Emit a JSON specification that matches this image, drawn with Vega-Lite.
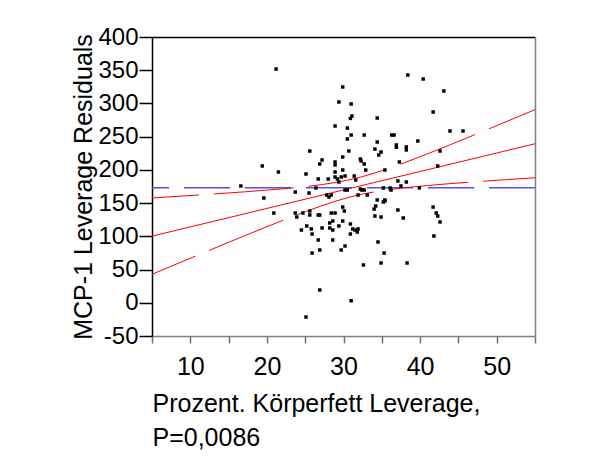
{
  "$schema": "https://vega.github.io/schema/vega-lite/v6.json",
  "width": 383,
  "height": 299,
  "autosize": {"type": "none"},
  "padding": {"left": 152, "top": 37, "right": 71, "bottom": 127},
  "background": "white",
  "config": {"view": {"stroke": null}, "font": "Liberation Sans"},
  "datasets": {
    "pts": [
      {"x":21.2,"y":351.8},{"x":38.4,"y":342.8},{"x":40.4,"y":336.8},{"x":43.1,"y":318.7},{"x":29.9,"y":324.8},
      {"x":29.4,"y":302.2},{"x":31.0,"y":299.2},{"x":41.7,"y":287.1},{"x":31.1,"y":281.1},{"x":30.9,"y":277.5},
      {"x":34.4,"y":278.1},{"x":28.9,"y":266.1},{"x":30.5,"y":263.0},{"x":43.9,"y":258.5},{"x":45.6,"y":258.5},
      {"x":31.0,"y":252.5},{"x":32.7,"y":252.5},{"x":36.3,"y":252.5},{"x":36.6,"y":252.5},{"x":30.5,"y":246.5},
      {"x":39.7,"y":243.5},{"x":34.4,"y":242.0},{"x":36.9,"y":237.5},{"x":36.9,"y":234.0},{"x":38.2,"y":234.5},
      {"x":38.2,"y":230.0},{"x":34.1,"y":231.4},{"x":25.6,"y":228.4},{"x":30.7,"y":228.4},{"x":34.9,"y":226.9},
      {"x":34.6,"y":222.4},{"x":42.6,"y":228.4},{"x":29.9,"y":219.4},{"x":27.2,"y":214.9},{"x":26.9,"y":208.9},
      {"x":32.2,"y":216.4},{"x":32.3,"y":213.4},{"x":32.7,"y":208.9},{"x":28.9,"y":211.9},{"x":28.9,"y":207.4},
      {"x":37.3,"y":211.9},{"x":32.9,"y":199.8},{"x":19.4,"y":205.9},{"x":21.5,"y":196.8},{"x":42.3,"y":205.9},
      {"x":35.4,"y":199.8},{"x":25.1,"y":193.8},{"x":28.9,"y":196.8},{"x":29.9,"y":199.8},{"x":30.2,"y":190.8},
      {"x":26.7,"y":186.3},{"x":28.0,"y":186.3},{"x":28.9,"y":189.3},{"x":29.2,"y":186.3},{"x":29.7,"y":189.3},
      {"x":29.4,"y":181.8},{"x":31.4,"y":190.8},{"x":31.6,"y":184.8},{"x":37.1,"y":183.3},{"x":38.2,"y":181.8},
      {"x":37.5,"y":175.8},{"x":26.4,"y":172.8},{"x":23.7,"y":166.7},{"x":25.5,"y":165.2},{"x":30.2,"y":169.7},
      {"x":30.5,"y":169.7},{"x":32.2,"y":171.2},{"x":32.4,"y":169.7},{"x":32.7,"y":169.7},{"x":35.2,"y":172.8},
      {"x":36.1,"y":172.8},{"x":36.2,"y":169.7},{"x":39.9,"y":172.8},{"x":16.6,"y":175.8},{"x":19.6,"y":157.7},
      {"x":27.8,"y":162.2},{"x":28.1,"y":159.2},{"x":28.4,"y":162.2},{"x":31.9,"y":162.2},{"x":33.1,"y":162.2},
      {"x":34.4,"y":154.7},{"x":35.4,"y":154.7},{"x":20.9,"y":135.1},{"x":23.7,"y":135.1},{"x":23.9,"y":129.1},
      {"x":24.7,"y":135.1},{"x":25.6,"y":138.1},{"x":25.6,"y":132.1},{"x":26.7,"y":132.1},{"x":26.9,"y":132.1},
      {"x":28.4,"y":135.1},{"x":28.9,"y":135.1},{"x":29.9,"y":144.1},{"x":30.1,"y":138.1},{"x":24.5,"y":109.5},
      {"x":25.2,"y":115.6},{"x":25.9,"y":103.5},{"x":27.2,"y":112.6},{"x":26.7,"y":94.5},{"x":26.9,"y":79.4},
      {"x":25.9,"y":74.9},{"x":28.2,"y":120.1},{"x":28.2,"y":112.6},{"x":28.6,"y":123.1},{"x":28.6,"y":109.5},
      {"x":28.6,"y":94.5},{"x":29.4,"y":115.6},{"x":29.9,"y":123.1},{"x":29.7,"y":79.4},{"x":30.2,"y":85.5},
      {"x":30.9,"y":118.6},{"x":30.9,"y":103.5},{"x":26.9,"y":19.2},{"x":25.1,"y":-21.4},{"x":41.7,"y":144.1},
      {"x":42.1,"y":135.1},{"x":42.3,"y":130.6},{"x":42.6,"y":121.6},{"x":41.8,"y":100.5},{"x":34.0,"y":141.1},
      {"x":34.2,"y":145.6},{"x":35.2,"y":151.7},{"x":35.4,"y":153.2},{"x":34.1,"y":130.6},{"x":34.9,"y":129.1},
      {"x":37.1,"y":139.6},{"x":37.8,"y":127.6},{"x":34.5,"y":91.5},{"x":35.3,"y":74.9},{"x":34.9,"y":59.9},
      {"x":38.3,"y":59.9},{"x":32.6,"y":56.9},{"x":31.2,"y":111.1},{"x":31.5,"y":109.5},{"x":31.9,"y":111.1},
      {"x":31.8,"y":106.5},{"x":25.8,"y":111.1},{"x":31.0,"y":3.0}
    ],
    "fit": [{"x":5,"y":100.3},{"x":55,"y":239.3}],
    "mean": [{"y":173}],
    "ci": [
      {"b":"upper","x":5,"y":157.7},{"b":"upper","x":8,"y":159.9},{"b":"upper","x":11,"y":162.2},{"b":"upper","x":14,"y":164.5},
      {"b":"upper","x":17,"y":166.9},{"b":"upper","x":20,"y":169.6},{"b":"upper","x":23,"y":172.5},{"b":"upper","x":25,"y":174.8},
      {"b":"upper","x":27,"y":177.6},{"b":"upper","x":29,"y":181.1},{"b":"upper","x":30.5,"y":184.4},{"b":"upper","x":31.5,"y":187.0},
      {"b":"upper","x":32.5,"y":190.0},{"b":"upper","x":34,"y":195.0},{"b":"upper","x":36,"y":202.6},{"b":"upper","x":38,"y":211.0},
      {"b":"upper","x":41,"y":224.3},{"b":"upper","x":44,"y":238.2},{"b":"upper","x":47,"y":252.3},{"b":"upper","x":50,"y":266.6},
      {"b":"upper","x":53,"y":281.0},{"b":"upper","x":55,"y":290.6},
      {"b":"lower","x":5,"y":42.9},{"b":"lower","x":8,"y":57.4},{"b":"lower","x":11,"y":71.8},{"b":"lower","x":14,"y":86.2},
      {"b":"lower","x":17,"y":100.5},{"b":"lower","x":20,"y":114.5},{"b":"lower","x":23,"y":128.2},{"b":"lower","x":25,"y":137.0},
      {"b":"lower","x":27,"y":145.4},{"b":"lower","x":29,"y":153.0},{"b":"lower","x":30.5,"y":158.1},{"b":"lower","x":31.5,"y":161.0},
      {"b":"lower","x":32.5,"y":163.6},{"b":"lower","x":34,"y":166.9},{"b":"lower","x":36,"y":170.4},{"b":"lower","x":38,"y":173.2},
      {"b":"lower","x":41,"y":176.5},{"b":"lower","x":44,"y":179.4},{"b":"lower","x":47,"y":181.9},{"b":"lower","x":50,"y":184.3},
      {"b":"lower","x":53,"y":186.6},{"b":"lower","x":55,"y":188.1}
    ]
  },
  "resolve": {"axis": {"x": "independent", "y": "independent"}},
  "layer": [
    {
      "data": {"name": "mean"},
      "mark": {"type": "rule", "color": "#5050f0", "strokeWidth": 1.5, "strokeDash": [46, 15]},
      "encoding": {
        "y": {"field": "y", "type": "quantitative", "scale": {"domain": [-50, 400], "nice": false, "zero": false},
          "axis": {"orient": "right", "labels": false, "ticks": false, "grid": false, "title": null, "domainColor": "#808080", "domainWidth": 1.5}}
      }
    },
    {
      "data": {"name": "ci"},
      "mark": {"type": "line", "color": "#ff0000", "strokeWidth": 1, "strokeDash": [80, 15], "strokeDashOffset": 33},
      "encoding": {
        "x": {"field": "x", "type": "quantitative", "scale": {"domain": [5, 55], "nice": false, "zero": false},
          "axis": {"orient": "top", "labels": false, "ticks": false, "grid": false, "title": null, "domainColor": "black", "domainWidth": 1.5}},
        "y": {"field": "y", "type": "quantitative", "axis": null},
        "detail": {"field": "b", "type": "nominal"}
      }
    },
    {
      "data": {"name": "fit"},
      "mark": {"type": "line", "color": "#ff0000", "strokeWidth": 1},
      "encoding": {
        "x": {"field": "x", "type": "quantitative", "axis": null},
        "y": {"field": "y", "type": "quantitative", "axis": null}
      }
    },
    {
      "data": {"name": "pts"},
      "mark": {"type": "square", "size": 12, "color": "black", "filled": true, "opacity": 1},
      "encoding": {
        "x": {"field": "x", "type": "quantitative",
          "axis": {"orient": "bottom", "values": [5,10,15,20,25,30,35,40,45,50,55],
            "labelExpr": "datum.value % 10 == 0 ? datum.label : ''",
            "tickSize": 7, "tickColor": "#707070", "tickWidth": 1.5, "domainColor": "#808080", "domainWidth": 1.5,
            "labelFontSize": 25, "labelColor": "black", "labelPadding": 11, "labelFlush": false, "labelOverlap": false,
            "grid": false, "title": ["Prozent. Körperfett Leverage,", "P=0,0086"], "titleFontSize": 25, "titleFontWeight": "normal",
            "titleColor": "black", "titleAnchor": "start", "titleAlign": "left", "titleLineHeight": 34, "titlePadding": 12}},
        "y": {"field": "y", "type": "quantitative",
          "axis": {"orient": "left", "values": [-50,0,50,100,150,200,250,300,350,400],
            "labelExpr": "replace(datum.label, '\u2212', '-')",
            "tickSize": 13, "tickColor": "black", "tickWidth": 1.5, "domainColor": "black", "domainWidth": 1.5,
            "labelFontSize": 24, "labelColor": "black", "labelPadding": 1, "labelFlush": false, "labelOverlap": false,
            "grid": false, "title": "MCP-1 Leverage Residuals", "titleFontSize": 25, "titleFontWeight": "normal",
            "titleColor": "black", "titlePadding": 1}}
      }
    }
  ]
}
